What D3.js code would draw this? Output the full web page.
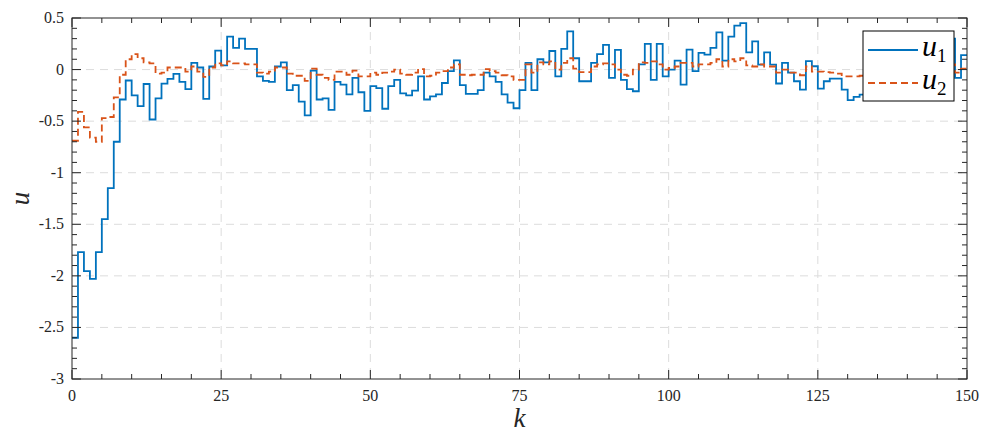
<!DOCTYPE html>
<html>
<head>
<meta charset="utf-8">
<script src="https://cdn.jsdelivr.net/npm/d3@7/dist/d3.min.js"></script>
<style>
  html, body { margin: 0; padding: 0; background: #fff; }
  svg { display: block; }
  .tick-label { font-family: "Liberation Serif", "DejaVu Serif", serif; font-size: 16px; fill: #262626; }
  .axis-label { font-family: "Liberation Serif", "DejaVu Serif", serif; font-style: italic; font-size: 27px; fill: #262626; }
  .legend-text { font-family: "Liberation Serif", "DejaVu Serif", serif; font-style: italic; font-size: 30px; fill: #000; }
  .legend-sub { font-family: "Liberation Serif", "DejaVu Serif", serif; font-style: normal; font-size: 19px; fill: #000; }
</style>
</head>
<body>
<svg id="chart" width="984" height="435"></svg>
<script>
// Control inputs u1, u2 over sample index k (zero-order hold / stairs)
const u1 = [
  -2.60, -1.77, -1.955, -2.03, -1.77, -1.45, -1.15, -0.70, -0.29, -0.106,
  -0.25, -0.355, -0.14, -0.484, -0.28, -0.136, -0.09, -0.042, -0.12, -0.19,
  0.065, 0.02, -0.284, 0.03, 0.184, 0.04, 0.32, 0.21, 0.30, 0.20,
  0.20, -0.065, -0.11, -0.12, 0.03, 0.07, -0.20, -0.15, -0.31, -0.445,
  -0.01, -0.29, -0.28, -0.39, -0.12, -0.145, -0.24, -0.08, -0.22, -0.40,
  -0.16, -0.18, -0.38, -0.16, -0.10, -0.23, -0.25, -0.205, -0.065, -0.29,
  -0.26, -0.24, -0.13, -0.016, 0.09, -0.15, -0.235, -0.235, -0.20, -0.03,
  -0.065, -0.12, -0.24, -0.32, -0.375, -0.20, 0.064, -0.20, 0.10, 0.07,
  0.18, -0.065, 0.20, 0.37, 0.11, -0.113, -0.113, 0.065, 0.15, 0.24,
  -0.08, 0.19, -0.10, -0.19, -0.21, 0.05, 0.25, -0.10, 0.25, -0.065,
  0.0, 0.087, -0.145, 0.194, -0.016, 0.161, 0.145, 0.21, 0.36, 0.087,
  0.32, 0.426, 0.45, 0.167, 0.274, 0.048, 0.167, 0.048, -0.135, 0.065,
  -0.03, -0.113, -0.194, 0.081, 0.032, -0.184, -0.113, -0.087, -0.087, -0.194,
  -0.297, -0.265, -0.242, -0.25, -0.10, 0.10, -0.05, -0.20, 0.05, -0.10,
  0.0, -0.15, 0.10, -0.05, -0.10, 0.05, -0.05, 0.30, -0.08, 0.14
];
const u2 = [
  -0.69, -0.41, -0.56, -0.66, -0.70, -0.47, -0.46, -0.27, -0.05, 0.10,
  0.15, 0.11, 0.07, 0.06, -0.04, -0.03, 0.02, 0.02, 0.02, -0.02,
  0.03, -0.02, -0.07, 0.02, 0.06, 0.04, 0.08, 0.06, 0.06, 0.05,
  0.05, -0.03, -0.04, -0.02, 0.02, 0.02, -0.04, -0.06, -0.06, -0.11,
  0.01, -0.05, -0.08, -0.10, -0.02, -0.02, -0.05, -0.01, -0.065, -0.065,
  -0.03, -0.05, -0.03, -0.02, 0.0, -0.04, -0.05, -0.03, 0.005, -0.065,
  -0.06, -0.03, -0.015, 0.02, 0.05, -0.05, -0.055, -0.05, -0.05, 0.005,
  -0.015, -0.03, -0.055, -0.065, -0.10, -0.10, 0.05, -0.03, 0.07, 0.05,
  0.08, 0.0, 0.065, 0.11, 0.01, -0.025, -0.025, 0.03, 0.05, 0.06,
  0.05, 0.0, -0.05, -0.06, 0.0, 0.07, 0.065, 0.08, 0.05, 0.0,
  0.015, 0.03, 0.065, 0.065, 0.03, 0.05, 0.05, 0.065, 0.10, 0.03,
  0.10, 0.08, 0.11, 0.04, 0.03, 0.05, 0.03, 0.03, -0.03, 0.0,
  -0.03, -0.03, -0.055, 0.03, -0.02, -0.02, -0.025, -0.03, -0.04, -0.065,
  -0.065, -0.065, -0.06, -0.05, -0.04, 0.02, -0.03, -0.04, -0.05, -0.02,
  0.0, -0.03, -0.05, -0.04, -0.02, -0.03, -0.02, 0.05, -0.03, 0.01
];
const kValues = d3.range(u1.length);            // k = 0 … 149
const xTicks = [0, 25, 50, 75, 100, 125, 150];
const yTicks = [0.5, 0, -0.5, -1, -1.5, -2, -2.5, -3];
const seriesNames = ["1", "2"];                  // subscripts of u
const seriesColors = ["#0072BD", "#D95319"];

const svg = d3.select("#chart");
const plot = { left: 72, right: 967, top: 18, bottom: 379 };

const x = d3.scaleLinear().domain([0, 150]).range([plot.left, plot.right]);
const y = d3.scaleLinear().domain([-3, 0.5]).range([plot.bottom, plot.top]);

const axisColor = "#262626";

// grid (dashed, major ticks only)
const grid = svg.append("g");
grid.selectAll(".gx").data(xTicks.slice(1, -1)).join("line")
  .attr("x1", d => x(d)).attr("x2", d => x(d))
  .attr("y1", plot.top).attr("y2", plot.bottom)
  .attr("stroke", "#dcdcdc").attr("stroke-width", 1).attr("stroke-dasharray", "8,6");
grid.selectAll(".gy").data(yTicks.slice(1, -1)).join("line")
  .attr("x1", plot.left).attr("x2", plot.right)
  .attr("y1", d => y(d)).attr("y2", d => y(d))
  .attr("stroke", "#dcdcdc").attr("stroke-width", 1).attr("stroke-dasharray", "8,6");

// stair lines
const stairs = d3.line()
  .x(d => x(d[0])).y(d => y(d[1]))
  .curve(d3.curveStepAfter);

function stepPoints(vals) {
  const pts = vals.map((v, i) => [kValues[i], v]);
  pts.push([150, vals[vals.length - 1]]);
  return pts;
}

svg.append("clipPath").attr("id", "plotclip").append("rect")
  .attr("x", plot.left).attr("y", plot.top)
  .attr("width", plot.right - plot.left).attr("height", plot.bottom - plot.top);

const lines = svg.append("g").attr("clip-path", "url(#plotclip)");
lines.append("path").datum(stepPoints(u1))
  .attr("d", stairs).attr("fill", "none")
  .attr("stroke", seriesColors[0]).attr("stroke-width", 1.8)
  .attr("stroke-linejoin", "miter");
lines.append("path").datum(stepPoints(u2))
  .attr("d", stairs).attr("fill", "none")
  .attr("stroke", seriesColors[1]).attr("stroke-width", 1.8)
  .attr("stroke-dasharray", "7,4");

// axes: ticks inward on all four sides
const minorX = d3.range(0, 151, 5);
const minorY = d3.range(-30, 6, 1).map(v => v / 10);
const majorLen = 9, minorLen = 5;
const axes = svg.append("g").attr("stroke", axisColor).attr("stroke-width", 1);
const isMajorX = v => v % 25 === 0;
const isMajorY = v => Math.abs(v * 2 - Math.round(v * 2)) < 1e-9;

minorX.forEach(v => {
  const L = isMajorX(v) ? majorLen : minorLen;
  axes.append("line").attr("x1", x(v)).attr("x2", x(v)).attr("y1", plot.bottom).attr("y2", plot.bottom - L);
  axes.append("line").attr("x1", x(v)).attr("x2", x(v)).attr("y1", plot.top).attr("y2", plot.top + L);
});
minorY.forEach(v => {
  const L = isMajorY(v) ? majorLen : minorLen;
  axes.append("line").attr("x1", plot.left).attr("x2", plot.left + L).attr("y1", y(v)).attr("y2", y(v));
  axes.append("line").attr("x1", plot.right).attr("x2", plot.right - L).attr("y1", y(v)).attr("y2", y(v));
});
axes.append("rect")
  .attr("x", plot.left).attr("y", plot.top)
  .attr("width", plot.right - plot.left).attr("height", plot.bottom - plot.top)
  .attr("fill", "none");

// tick labels
svg.append("g").selectAll("text").data(xTicks).join("text")
  .attr("class", "tick-label")
  .attr("x", d => x(d)).attr("y", plot.bottom + 22)
  .attr("text-anchor", "middle")
  .text(d => String(d));
svg.append("g").selectAll("text").data(yTicks).join("text")
  .attr("class", "tick-label")
  .attr("x", plot.left - 8).attr("y", d => y(d) + 5)
  .attr("text-anchor", "end")
  .text(d => String(d).replace("\u2212", "-"));

// axis labels
svg.append("text").attr("class", "axis-label")
  .attr("x", (plot.left + plot.right) / 2).attr("y", 427)
  .attr("text-anchor", "middle").text("k");
svg.append("text").attr("class", "axis-label")
  .attr("transform", `translate(29, ${(plot.top + plot.bottom) / 2}) rotate(-90)`)
  .attr("text-anchor", "middle").text("u");

// legend
const legend = svg.append("g");
const lg = { x: 863, y: 31, w: 91, h: 70 };
legend.append("rect")
  .attr("x", lg.x).attr("y", lg.y).attr("width", lg.w).attr("height", lg.h)
  .attr("fill", "#fff").attr("stroke", "#000").attr("stroke-width", 1);
const rowsY = [50, 83];
seriesNames.forEach((s, i) => {
  const line = legend.append("line")
    .attr("x1", lg.x + 5).attr("x2", lg.x + 55)
    .attr("y1", rowsY[i]).attr("y2", rowsY[i])
    .attr("stroke", seriesColors[i]).attr("stroke-width", 1.8);
  if (i === 1) line.attr("stroke-dasharray", "7,4");
  const t = legend.append("text").attr("class", "legend-text")
    .attr("x", lg.x + 59).attr("y", rowsY[i] + 6);
  t.append("tspan").text("u");
  t.append("tspan").attr("class", "legend-sub").attr("dy", 6).text(s);
});
</script>
</body>
</html>
